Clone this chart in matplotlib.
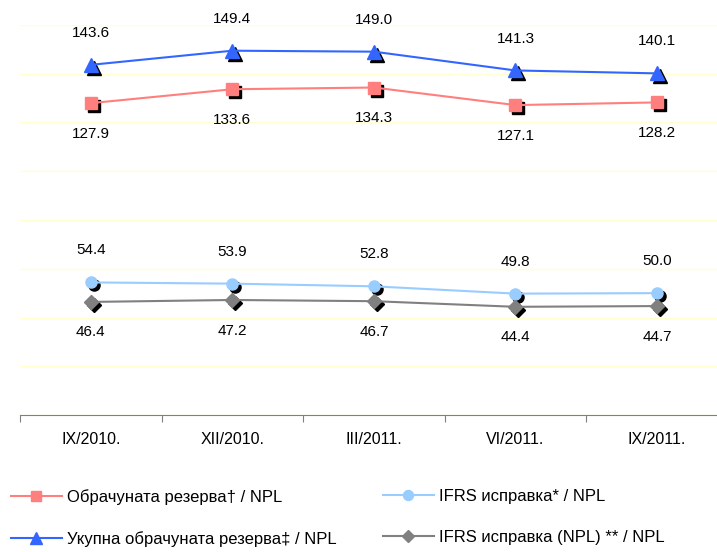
import matplotlib.pyplot as plt
import matplotlib.transforms as mtransforms

plt.rcParams['font.family'] = ['Liberation Sans', 'DejaVu Sans']

categories = ['IX/2010.', 'XII/2010.', 'III/2011.', 'VI/2011.', 'IX/2011.']
obracunata = [127.9, 133.6, 134.3, 127.1, 128.2]
ukupna = [143.6, 149.4, 149.0, 141.3, 140.1]
ifrs = [54.4, 53.9, 52.8, 49.8, 50.0]
ifrs_npl = [46.4, 47.2, 46.7, 44.4, 44.7]

series = [
    ('Обрачуната резерва† / NPL', obracunata, '#FF7F7F', 's', 8, 'below'),
    ('Укупна обрачуната резерва‡ / NPL', ukupna, '#3366FF', '^', 10, 'above'),
    ('IFRS исправка* / NPL', ifrs, '#99CCFF', 'o', 8, 'above'),
    ('IFRS исправка (NPL) ** / NPL', ifrs_npl, '#808080', 'D', 7, 'below'),
]

fig = plt.figure(figsize=(7.17, 5.52), dpi=100)
ax = fig.add_axes([0.028, 0.248, 0.987, 0.707])

x = list(range(len(categories)))
shadow = mtransforms.offset_copy(ax.transData, fig=fig, x=3, y=-3, units='dots')

handles = []
for label, vals, color, marker, ms, pos in series:
    ax.plot(x, vals, linestyle='none', marker=marker, markersize=ms,
            color='black', transform=shadow, zorder=3)
    h, = ax.plot(x, vals, color=color, marker=marker, markersize=ms,
                 linewidth=1.5, zorder=4, label=label)
    handles.append(h)
    for xi, v in zip(x, vals):
        dy = 23 if pos == 'above' else -22
        ax.annotate(f'{v:.1f}', (xi, v), xytext=(0, dy), textcoords='offset points',
                    ha='center', va='center', fontsize=11)

ax.set_ylim(0, 160)
ax.set_xlim(-0.5, 4.5)
ax.set_yticks(range(0, 161, 20))
ax.yaxis.grid(True, color='#FFFFD0', linewidth=1)
ax.set_axisbelow(True)
ax.tick_params(axis='y', left=False, labelleft=False)
for s in ['top', 'right', 'left']:
    ax.spines[s].set_visible(False)
ax.spines['bottom'].set_color('#808080')

ax.set_xticks([i - 0.5 for i in range(len(categories) + 1)])
ax.set_xticklabels([])
ax.set_xticks(x, minor=True)
ax.set_xticklabels(categories, minor=True, fontsize=11.5)
ax.tick_params(axis='x', which='major', direction='out', length=5, color='#808080')
ax.tick_params(axis='x', which='minor', length=0, pad=12)

# two legend columns placed separately
leg_kw = dict(loc='upper left', frameon=False, fontsize=12, handlelength=3.05,
              handletextpad=0.3, labelspacing=1.55, borderpad=0, borderaxespad=0,
              markerscale=0.9)
fig.legend(handles[:2], [s[0] for s in series[:2]],
           bbox_to_anchor=(11 / 717, 1 - 489 / 552), **leg_kw)
fig.legend(handles[2:], [s[0] for s in series[2:]],
           bbox_to_anchor=(383 / 717, 1 - 489 / 552), **leg_kw)

fig.savefig('out.png', dpi=100)
